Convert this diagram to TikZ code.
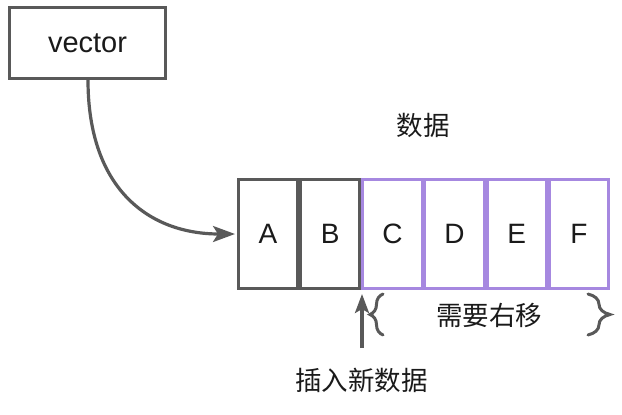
\documentclass[tikz,border=0pt]{standalone}
\usepackage{fontspec}
\setmainfont{Liberation Sans}
\newfontfamily\cjk{Noto Sans CJK SC}
\usetikzlibrary{arrows.meta,decorations.pathreplacing}
\definecolor{dgray}{HTML}{595959}
\definecolor{purp}{RGB}{166,136,224}
\definecolor{txt}{HTML}{1A1A1A}
\begin{document}
\begin{tikzpicture}[x=1pt,y=-1pt,
  box/.style={draw=dgray,line width=3pt,inner sep=0pt,text=txt,font=\fontsize{29}{32}\selectfont},
  cellg/.style={draw=dgray,line width=3pt,minimum width=59.5pt,minimum height=109pt,inner sep=0pt,text=txt,font=\fontsize{28}{32}\selectfont},
  cellp/.style={cellg,draw=purp},
  lbl/.style={text=txt,inner sep=0pt,font=\cjk\fontsize{26.5}{30}\selectfont},
  conn/.style={draw=dgray,line width=3.2pt,-{Stealth[length=22pt,width=16pt,inset=5pt]}},
  brc/.style={draw=dgray,line width=3pt,line cap=round,decorate}]
\useasboundingbox (0,0) rectangle (622,415);
\node[box,minimum width=156pt,minimum height=71pt] (vec) at (87.5,43) {vector};
\node[cellg] (A) at (268,234) {A};
\node[cellg] (B) at (330.2,234) {B};
\node[cellp] (C) at (392.4,234) {C};
\node[cellp] (D) at (454.6,234) {D};
\node[cellp] (E) at (516.8,234) {E};
\node[cellp] (F) at (579,234) {F};
\node[lbl] (data) at (423,125) {数据};
\node[lbl] (shift) at (489,315) {需要右移};
\node[lbl] (ins) at (361.5,380) {插入新数据};
\coordinate (vs) at (88,80);
\coordinate (ve) at (235,234);
\draw[conn] (vs) .. controls (88,190) and (150,234) .. (ve);
\coordinate (is) at (362,348);
\coordinate (ie) at (362,294);
\draw[conn,-{Stealth[length=19pt,width=14pt,inset=4pt]}] (is) -- (ie);
\coordinate (lb1) at (383,335);
\coordinate (lb2) at (383,294);
\draw[brc,decoration={brace,amplitude=13pt}] (lb1) -- (lb2);
\coordinate (rb1) at (588,294);
\coordinate (rb2) at (588,335);
\draw[brc,decoration={brace,amplitude=22pt}] (rb1) -- (rb2);
\end{tikzpicture}
\end{document}
